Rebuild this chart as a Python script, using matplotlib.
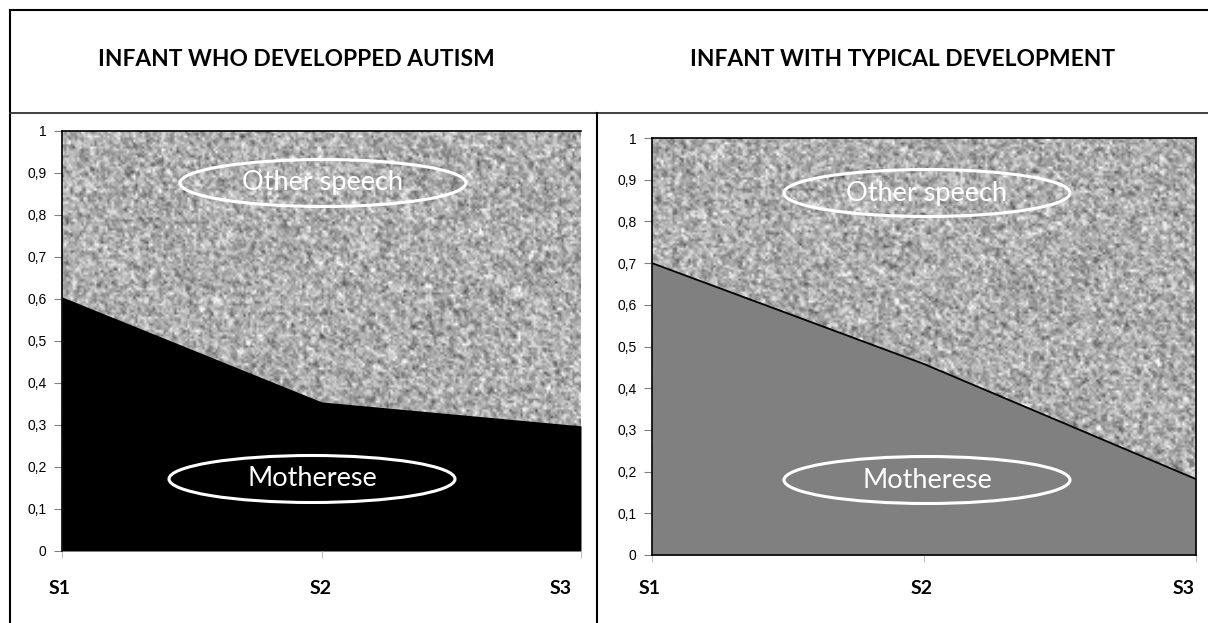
import matplotlib.pyplot as plt
import numpy as np
from matplotlib.lines import Line2D
from matplotlib.patches import Ellipse

W, H = 1208, 623

# data
sessions = ["S1", "S2", "S3"]
autism_motherese = [0.605, 0.355, 0.298]
typical_motherese = [0.70, 0.458, 0.182]
yticks = [0, 0.1, 0.2, 0.3, 0.4, 0.5, 0.6, 0.7, 0.8, 0.9, 1.0]
titles = ["INFANT WHO DEVELOPPED AUTISM", "INFANT WITH TYPICAL DEVELOPMENT"]

fig = plt.figure(figsize=(W / 100, H / 100), dpi=100)

def fx(px):
    return px / W

def fy(py):
    return 1 - py / H

# table lines
fig.add_artist(Line2D([fx(10), 1], [fy(10), fy(10)], color="black", lw=1.5))
fig.add_artist(Line2D([fx(10), fx(10)], [fy(10), 0], color="black", lw=1.5))
fig.add_artist(Line2D([fx(10), 1], [fy(113), fy(113)], color="#333333", lw=1.3))
fig.add_artist(Line2D([fx(597), fx(597)], [fy(113), 0], color="black", lw=1.5))

fig.text(fx(296), fy(60), titles[0], ha="center", va="center",
         fontsize=16.4, fontweight="bold", family="Lato")
fig.text(fx(903), fy(60), titles[1], ha="center", va="center",
         fontsize=16.4, fontweight="bold", family="Lato")

# noise texture (background pattern only)
rng = np.random.default_rng(3)

def texture(h, w):
    n = rng.normal(0.68, 0.18, (h, w))
    k = (n + np.roll(n, 1, 0) + np.roll(n, 1, 1) + np.roll(np.roll(n, 1, 0), 1, 1)) / 4
    return np.clip(0.4 * n + 0.6 * k + rng.normal(0, 0.03, (h, w)), 0, 1)

panels = [
    dict(box=(62, 131, 581, 551), vals=autism_motherese, color="black",
         edge=False, ell=[(323, 183), (312, 479)], ell_w=286, ell_h=47,
         lbl=[60, 321, 572]),
    dict(box=(652, 138, 1196, 555), vals=typical_motherese, color="#808080",
         edge=True, ell=[(927, 193), (927, 480)], ell_w=286, ell_h=47,
         lbl=[650, 922, 1195]),
]

for p in panels:
    x0, y0, x1, y1 = p["box"]
    ax = fig.add_axes([fx(x0), fy(y1), fx(x1 - x0), (y1 - y0) / H])
    x = np.arange(len(sessions))
    ax.imshow(texture(190, 240), cmap="gray", vmin=0, vmax=1, aspect="auto",
              extent=[0, 2, 0, 1], interpolation="bilinear", zorder=0)
    ax.fill_between(x, 0, p["vals"], color=p["color"], lw=0, zorder=1)
    if p["edge"]:
        ax.plot(x, p["vals"], color="black", lw=1.3, zorder=2)
    ax.set_xlim(0, 2)
    ax.set_ylim(0, 1)
    ax.set_yticks(yticks)
    ax.set_yticklabels([("%g" % v).replace(".", ",") for v in yticks],
                       family="Liberation Sans", fontsize=10)
    ax.tick_params(axis="y", length=6, color="#808080", width=0.8, pad=5)
    ax.set_xticks(x)
    ax.set_xticklabels([])
    ax.tick_params(axis="x", length=5, color="#c0c0c0", width=0.8, direction="out")
    for s in ax.spines.values():
        s.set_linewidth(1.2)
    if not p["edge"]:
        ax.spines["right"].set_visible(False)
        ax.spines["bottom"].set_visible(False)
    for lx, name, ha in zip(p["lbl"], sessions, ["center", "center", "right"]):
        fig.text(fx(lx), fy(589), name, ha=ha, va="center", fontsize=14,
                 fontweight="bold", family="Lato")
    for (cx, cy), name in zip(p["ell"], ["Other speech", "Motherese"]):
        fig.add_artist(Ellipse((fx(cx), fy(cy)), fx(p["ell_w"]), p["ell_h"] / H,
                               fill=False, edgecolor="white", lw=2.2))
        fig.text(fx(cx), fy(cy), name, ha="center", va="center", color="white",
                 fontsize=19.5, family="Lato")

fig.savefig("out.png", dpi=100)
